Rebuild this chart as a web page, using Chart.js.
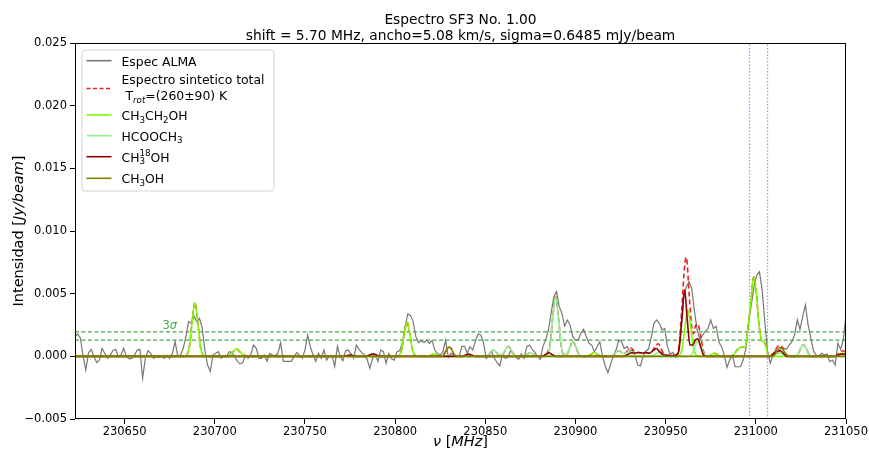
<!DOCTYPE html>
<html>
<head>
<meta charset="utf-8">
<script src="https://cdn.jsdelivr.net/npm/chart.js@4/dist/chart.umd.min.js"></script>
<style>
  html, body { margin: 0; padding: 0; background: #fff; }
  canvas { display: block; }
</style>
</head>
<body>
<canvas id="c" width="869" height="451"></canvas>
<script>
// Observed ALMA spectrum: uniform channel grid (MHz) and flux (Jy/beam)
const almaStart = 230622.5;
const almaStep = 1.5;
const almaFlux = [
  0.00157,0.00178,0.00144,0,-0.0011,0.0003,0.00056,0,-0.0005,-0.0003,
  0.00064,0.00024,-0.00016,0.0001,0.00045,0.00056,0,0.0001,0.00064,0,
  -0.0002,-0.00016,0.0001,0.0005,0.00056,-0.00175,-0.00016,0.00045,0.00024,-0.00016,
  0,-0.0001,0,-0.00016,0.0001,-0.00016,0.00024,0.00117,0,0.0001,
  0.00064,0.00157,0.00277,0.00263,0.0032,0.00277,0.00303,0.0023,0.0005,-0.0007,
  -0.0012,0.0001,0.00024,0.00037,-0.00016,0,0,0.00037,0.0003,0,
  -0.0004,-0.0006,-0.0005,0.0001,-0.00016,0.00016,0.0009,0.00064,-0.00016,-0.00016,
  0.0001,-0.0004,0.00024,0.0001,0.00005,0.00024,0.0011,-0.0004,-0.0004,-0.0004,
  -0.0004,0,0.0003,0.0001,-0.00016,0.0005,0.0017,0.00077,0.0001,-0.0004,
  0.00024,-0.00016,0.0005,-0.0003,0,0.00005,-0.0008,0.0008,0,-0.00035,
  0.00043,0.0005,0.0002,-0.00016,0.0009,0.00056,0.0003,0.0001,-0.00024,-0.00096,
  -0.00016,0.0001,-0.0004,0.0005,0.00037,-0.00056,0.00024,-0.0002,-0.0003,0.00037,
  0.00045,0.00104,0.00237,0.00338,0.00327,0.00277,0.00157,0.0011,0.00125,0.0011,
  0.0013,0.00104,0.00125,0.0005,0.0002,0.0001,0.00037,0.0013,-0.00008,0.00024,
  0.0001,0.00005,0,0.0008,0.0008,0.00024,0.00077,0.0005,0.00122,0.00178,
  0.0017,0.00109,-0.00016,0.0001,0.00037,-0.00016,-0.00048,-0.00077,0.0001,-0.00016,
  -0.00008,0.00045,0.00024,-0.00008,-0.00024,0.00018,-0.00016,0.00077,0.0009,0.00056,
  0.00032,0,-0.00024,0.0008,0.00135,0.0021,0.00343,0.00476,0.00516,0.00396,
  0.00343,0.00242,0.0029,0.0025,0.00157,0.0013,0.0013,0.00183,0.00215,0.00157,
  0.00104,0.0009,0.00037,0.00077,0.00117,0,-0.00077,-0.0013,-0.0006,0,
  0.0005,0.0013,0.00117,0.00064,0.00077,0.00045,0.0005,0.0001,-0.0007,-0.00077,
  0,0.00043,0.00058,0.00151,0.00263,0.0029,0.00263,0.0021,0.00223,0.00077,
  0.00016,0.00032,-0.00008,0.00024,0.00223,0.00476,0.00556,0.00596,0.0054,0.00356,
  0.0021,0.00135,0.0017,0.002,0.00223,0.0029,0.00223,0.0024,0.00114,0.00077,
  0.0001,-0.00088,-0.0003,0.0001,-0.00083,-0.00083,-0.00083,-0.0003,0.00064,0.00276,
  0.0041,0.00556,0.00649,0.00675,0.0053,0.00276,0.00037,-0.00056,0.0001,0.0005,
  0.00024,0.00069,0.00064,0.00058,0.0009,0.00117,0.0017,0.0029,0.00215,0.00316,
  0.0041,0.0025,0.00143,0.00043,0.0001,0.00003,0.00024,0.0001,0.00018,-0.00043,
  -0.0003,-0.0007,0.00104,0.00056,0.0013,0.0033
];

// Synthetic spectra, [frequency MHz, flux Jy/beam]
const totalSynth = [
  [230622.5,0],
  [230683.0,0],[230684.5,0.00011],[230686.0,0.00084],[230687.5,0.00286],[230689.0,0.0043],[230690.5,0.00286],[230692.0,0.00084],[230693.5,0.00011],[230695.0,0],
  [230706.0,0],[230708.0,0.0001],[230710.0,0.00035],[230712.0,0.0006],[230714.0,0.00035],[230716.0,0.0001],[230718.0,0],
  [230800.6,0],[230802.1,0.00007],[230803.6,0.00054],[230805.1,0.00183],[230806.6,0.00275],[230808.1,0.00183],[230809.6,0.00054],[230811.1,0.00007],[230812.6,0],
  [230826.0,0],[230827.5,0.00025],[230829.0,0.00065],[230830.0,0.00072],[230831.2,0.0006],[230832.5,0.0002],[230834.0,0],
  [230850.0,0],[230851.5,0.0001],[230853.0,0.00033],[230854.5,0.0005],[230856.0,0.00033],[230857.5,0.00012],[230859.8,0.00016],[230861.3,0.00054],[230862.8,0.0008],[230864.3,0.00054],[230865.8,0.00016],[230867.3,0],
  [230870.5,0],[230872.0,0.00006],[230873.5,0.00019],[230875.0,0.00028],[230876.5,0.00019],[230878.0,0.00006],[230879.5,0],
  [230883.0,0],[230884.5,0.0003],[230886.0,0.0011],[230887.5,0.0032],[230889.0,0.00476],[230890.5,0.00317],[230892.0,0.00093],[230893.5,0.00013],[230895.6,0.00024],[230897.1,0.0008],[230898.6,0.0012],[230900.1,0.0008],[230901.6,0.00024],[230903.1,0.00003],[230904.6,0],
  [230906.0,0],[230908.5,0.00015],[230910.3,0.0003],[230912.0,0.00015],[230914.5,0],
  [230919.5,0],[230921.0,0.00009],[230922.5,0.0003],[230924.0,0.00045],[230925.5,0.00032],[230927.0,0.0002],[230929.0,0.00045],[230931.0,0.00065],[230933.0,0.00034],[230935.0,0.0003],[230937.0,0.00027],[230939.0,0.0003],[230941.0,0.00025],[230943.0,0.0005],[230944.5,0.00085],[230946.0,0.001],[230947.5,0.0006],[230949.0,0.0002],[230951.0,0.00008],[230953.0,0.00007],[230955.0,0.00008],[230956.5,0.0002],[230957.5,0.0009],[230959.0,0.0039],[230960.5,0.0072],[230961.5,0.0079],[230963.0,0.005],[230964.5,0.0023],[230965.5,0.0018],[230966.5,0.0024],[230967.8,0.0026],[230969.3,0.0017],[230971.0,0.0004],[230972.5,0.00005],[230974.0,0],
  [230975.5,0.00015],[230977.0,0.00025],[230978.5,0.00015],[230980.5,0],
  [230986.8,0],[230989.6,0.0005],[230992.4,0.00077],[230994.2,0.0007],[230995.7,0.0024],[230997.0,0.004],[230998.9,0.00635],[231000.2,0.0052],[231001.7,0.0026],[231003.1,0.0013],[231004.4,0.00117],[231005.7,0.00077],[231006.8,0.0001],[231008.0,0.00005],[231009.5,0.0002],[231011.0,0.00055],[231012.5,0.00085],[231014.0,0.00085],[231015.5,0.0005],[231017.0,0.00015],[231018.5,0],
  [231021.9,0],[231023.4,0.00019],[231024.9,0.00063],[231026.4,0.00095],[231027.9,0.00063],[231029.4,0.00019],[231030.9,0],
  [231044.0,0],[231046.0,0.00025],[231048.0,0.00045],[231050.0,0.00035]
];

const ch3ch2oh = [
  [230622.5,0],
  [230683.0,0],[230684.5,0.00011],[230686.0,0.00084],[230687.5,0.00286],[230689.0,0.0043],[230690.5,0.00286],[230692.0,0.00084],[230693.5,0.00011],[230695.0,0],
  [230706.0,0],[230708.0,0.0001],[230710.0,0.00035],[230712.0,0.0006],[230714.0,0.00035],[230716.0,0.0001],[230718.0,0],
  [230800.6,0],[230802.1,0.00007],[230803.6,0.00054],[230805.1,0.00183],[230806.6,0.00275],[230808.1,0.00183],[230809.6,0.00054],[230811.1,0.00007],[230812.6,0],
  [230818.0,0],[230820.0,0.00012],[230821.5,0.0002],[230823.0,0.00012],[230825.0,0],
  [230906.0,0],[230908.5,0.00015],[230910.3,0.0003],[230912.0,0.00015],[230914.5,0],
  [230956.3,0],[230957.8,0.00009],[230959.3,0.00073],[230960.8,0.00246],[230962.3,0.0037],[230963.8,0.00246],[230965.3,0.00073],[230966.8,0.00012],[230968.3,0],
  [230973.5,0],[230975.5,0.00015],[230977.0,0.00025],[230978.5,0.00015],[230980.5,0],
  [230986.8,0],[230989.6,0.0005],[230992.4,0.00077],[230994.2,0.0007],[230995.7,0.0024],[230997.0,0.004],[230998.9,0.00635],[231000.2,0.0052],[231001.7,0.0026],[231003.1,0.0013],[231004.4,0.00117],[231005.7,0.00077],[231006.8,0.0001],[231008.0,0],
  [231044.0,0],[231046.0,0.00015],[231048.0,0.00025],[231050.0,0.0002]
];

const hcooch3 = [
  [230622.5,0],
  [230850.0,0],[230851.5,0.0001],[230853.0,0.00033],[230854.5,0.0005],[230856.0,0.00033],[230857.5,0.00012],[230859.8,0.00016],[230861.3,0.00054],[230862.8,0.0008],[230864.3,0.00054],[230865.8,0.00016],[230867.3,0],
  [230870.5,0],[230872.0,0.00006],[230873.5,0.00019],[230875.0,0.00028],[230876.5,0.00019],[230878.0,0.00006],[230879.5,0],
  [230883.0,0],[230884.5,0.00012],[230886.0,0.00093],[230887.5,0.00317],[230889.0,0.00476],[230890.5,0.00317],[230892.0,0.00093],[230893.5,0.00013],[230895.6,0.00024],[230897.1,0.0008],[230898.6,0.0012],[230900.1,0.0008],[230901.6,0.00024],[230903.1,0.00003],[230904.6,0],
  [230919.5,0],[230921.0,0.00009],[230922.5,0.0003],[230924.0,0.00045],[230925.5,0.00032],[230927.0,0.0002],[230928.5,0.0003],[230930.0,0.0004],[230931.5,0.00027],[230933.0,0.00008],[230934.5,0],
  [230941.5,0],[230943.0,0.00006],[230944.5,0.0002],[230946.0,0.0003],[230947.5,0.0002],[230949.0,0.00006],[230950.5,0],
  [230962.0,0],[230963.5,0.00003],[230965.0,0.00026],[230966.5,0.00087],[230968.0,0.0013],[230969.5,0.00087],[230971.0,0.00026],[230972.5,0.00003],[230974.0,0],
  [231008.5,0],[231010.0,0.00006],[231011.5,0.0002],[231013.0,0.0003],[231014.5,0.0002],[231016.0,0.00006],[231017.5,0],
  [231021.9,0],[231023.4,0.00019],[231024.9,0.00063],[231026.4,0.00095],[231027.9,0.00063],[231029.4,0.00019],[231030.9,0],
  [231050.0,0]
];

const ch3_18oh = [
  [230622.5,0],
  [230771.5,0],[230773.5,0.00007],[230775.0,0.0001],[230776.5,0.00007],[230778.5,0],
  [230784.0,0],[230786.0,0.00012],[230787.8,0.0002],[230789.5,0.00012],[230791.5,0],
  [230837.0,0],[230839.0,0.0001],[230840.8,0.00018],[230842.5,0.0001],[230844.5,0],
  [230881.5,0],[230883.5,0.00015],[230885.2,0.00028],[230887.0,0.00015],[230889.0,0],
  [230927.0,0],[230929.0,0.00015],[230931.0,0.00028],[230933.0,0.00026],[230935.0,0.0003],[230937.0,0.00027],[230939.0,0.0003],[230941.0,0.00025],[230943.0,0.00045],[230944.8,0.00062],[230946.5,0.0004],[230948.5,0.00015],[230950.5,0.00008],[230952.5,0.00007],[230954.5,0.00006],[230956.5,0.00015],[230957.5,0.0006],[230959.0,0.0029],[230960.5,0.0053],[230962.0,0.0029],[230963.5,0.0009],[230965.0,0.0009],[230966.5,0.0013],[230967.8,0.0014],[230969.3,0.0008],[230971.0,0.0001],[230972.5,0],
  [231008.0,0],[231010.0,0.00022],[231011.8,0.0004],[231013.5,0.00045],[231015.0,0.00028],[231017.0,0],
  [231044.0,0],[231046.0,0.00012],[231048.0,0.0002],[231050.0,0.00015]
];

const ch3oh = [
  [230622.5,0],
  [230826.0,0],[230827.5,0.00025],[230829.0,0.00065],[230830.0,0.00072],[230831.2,0.0006],[230832.5,0.0002],[230834.0,0],
  [231009.5,0],[231011.0,0.00025],[231012.5,0.0006],[231013.6,0.00072],[231015.0,0.00055],[231016.5,0.0002],[231018.0,0],
  [231050.0,0]
];

// Noise level of the spectrum (Jy/beam) and reference line frequencies (MHz)
const sigma = 0.0006485;
const markerFreqs = [230996.5, 231006.5];

// Axis ticks
const xTicks = [230650, 230700, 230750, 230800, 230850, 230900, 230950, 231000, 231050];
const yTicks = [-0.005, 0, 0.005, 0.010, 0.015, 0.020, 0.025];
const xRange = [230622.5, 231050];
const yRange = [-0.005, 0.025];

const FONT = '"DejaVu Sans", "Liberation Sans", sans-serif';
const toXY = arr => arr.map(p => ({ x: p[0], y: p[1] }));

const almaPoints = almaFlux.map((v, i) => ({ x: almaStart + i * almaStep, y: v }));

function hline(value, color) {
  return {
    data: [{ x: xRange[0], y: value }, { x: xRange[1], y: value }],
    borderColor: color, borderWidth: 1.2, borderDash: [4, 2.5],
    pointRadius: 0, order: 8
  };
}
function vline(freq) {
  return {
    data: [{ x: freq, y: yRange[0] }, { x: freq, y: yRange[1] }],
    borderColor: '#6ab4f5', borderWidth: 1.3, borderDash: [1.5, 1.8],
    pointRadius: 0, order: 9
  };
}

const datasets = [
  { label: 'Espec ALMA', data: almaPoints, borderColor: '#777777', borderWidth: 1.2, order: 7 },
  { label: 'total', data: toXY(totalSynth), borderColor: '#ee2222', borderWidth: 1.6, borderDash: [5, 3], cubicInterpolationMode: 'monotone', order: 6 },
  { label: 'CH3CH2OH', data: toXY(ch3ch2oh), borderColor: '#7cfc00', borderWidth: 1.6, cubicInterpolationMode: 'monotone', order: 5 },
  { label: 'HCOOCH3', data: toXY(hcooch3), borderColor: '#90ee90', borderWidth: 1.6, cubicInterpolationMode: 'monotone', order: 4 },
  { label: 'CH3-18OH', data: toXY(ch3_18oh), borderColor: '#8b0000', borderWidth: 1.6, cubicInterpolationMode: 'monotone', order: 3 },
  { label: 'CH3OH', data: toXY(ch3oh), borderColor: '#808000', borderWidth: 1.6, cubicInterpolationMode: 'monotone', order: 2 },
  hline(3 * sigma, '#44aa44'),
  hline(2 * sigma, '#44aa44'),
  vline(markerFreqs[0]),
  vline(markerFreqs[1])
];

// --- rich text helpers (subscripts, superscripts, italics) ---
function fnt(size, italic) { return (italic ? 'italic ' : '') + size + 'px ' + FONT; }
function drawRich(ctx, parts, x, y, fs, measureOnly) {
  let cx = x;
  for (const p of parts) {
    if (typeof p === 'string' || p.t !== undefined) {
      const txt = typeof p === 'string' ? p : p.t;
      ctx.font = fnt(fs, p.it);
      if (!measureOnly) ctx.fillText(txt, cx, y);
      cx += ctx.measureText(txt).width;
    } else {
      const ss = fs * 0.7;
      let w = 0;
      ctx.font = fnt(ss, p.it);
      if (p.sub !== undefined) {
        if (!measureOnly) ctx.fillText(p.sub, cx, y + fs * 0.22);
        w = Math.max(w, ctx.measureText(p.sub).width);
      }
      if (p.sup !== undefined) {
        if (!measureOnly) ctx.fillText(p.sup, cx, y - fs * 0.42);
        w = Math.max(w, ctx.measureText(p.sup).width);
      }
      cx += w;
    }
  }
  return cx - x;
}

const legendRows = [
  { color: '#777777', dash: [], hy: 60.7, lines: [{ y: 65.5, x: 121.5, parts: ['Espec ALMA'] }] },
  { color: '#ee2222', dash: [4, 2.5], hy: 88.5, lines: [
      { y: 83.7, x: 121.5, parts: ['Espectro sintetico total'] },
      { y: 100, x: 121.5, parts: [' T', { sub: 'rot', it: true }, '=(260\u00b190) K'] }] },
  { color: '#7cfc00', dash: [], hy: 115, lines: [{ y: 120, x: 121.5, parts: ['CH', { sub: '3' }, 'CH', { sub: '2' }, 'OH'] }] },
  { color: '#90ee90', dash: [], hy: 135.7, lines: [{ y: 140.5, x: 121.5, parts: ['HCOOCH', { sub: '3' }] }] },
  { color: '#8b0000', dash: [], hy: 156.7, lines: [{ y: 161.5, x: 121.5, parts: ['CH', { sub: '3', sup: '18' }, 'OH'] }] },
  { color: '#808000', dash: [], hy: 178.3, lines: [{ y: 183, x: 121.5, parts: ['CH', { sub: '3' }, 'OH'] }] }
];

const decorPlugin = {
  id: 'decor',
  afterDatasetsDraw(chart) {
    const { ctx, chartArea: a, scales } = chart;
    ctx.save();
    // frame around the axes
    ctx.strokeStyle = '#000';
    ctx.lineWidth = 1;
    ctx.strokeRect(Math.round(a.left) + 0.5, Math.round(a.top) + 0.5,
                   Math.round(a.right - a.left) - 1, Math.round(a.bottom - a.top) - 1);

    // 3 sigma label
    ctx.fillStyle = '#44aa44';
    ctx.textBaseline = 'alphabetic';
    const lx = scales.x.getPixelForValue(230671);
    const ly = scales.y.getPixelForValue(3 * sigma) - 3;
    drawRich(ctx, ['3', { t: '\u03c3', it: true }], lx, ly, 11.5);

    // legend box
    const bx = 82, by = 50, bw = 192, bh = 141, r = 3;
    ctx.beginPath();
    ctx.moveTo(bx + r, by);
    ctx.arcTo(bx + bw, by, bx + bw, by + bh, r);
    ctx.arcTo(bx + bw, by + bh, bx, by + bh, r);
    ctx.arcTo(bx, by + bh, bx, by, r);
    ctx.arcTo(bx, by, bx + bw, by, r);
    ctx.closePath();
    ctx.fillStyle = 'rgba(255,255,255,0.85)';
    ctx.fill();
    ctx.strokeStyle = '#d4d4d4';
    ctx.lineWidth = 1;
    ctx.stroke();

    for (const row of legendRows) {
      ctx.beginPath();
      ctx.setLineDash(row.dash);
      ctx.strokeStyle = row.color;
      ctx.lineWidth = 1.6;
      ctx.moveTo(86.5, row.hy);
      ctx.lineTo(111.5, row.hy);
      ctx.stroke();
      ctx.setLineDash([]);
      ctx.fillStyle = '#000';
      for (const ln of row.lines) drawRich(ctx, ln.parts, ln.x, ln.y, 12.4);
    }

    // title
    ctx.fillStyle = '#000';
    const cx = (a.left + a.right) / 2;
    ctx.font = fnt(13.8);
    ctx.textAlign = 'center';
    ctx.fillText('Espectro SF3 No. 1.00', cx, 23.5);
    ctx.fillText('shift = 5.70 MHz, ancho=5.08 km/s, sigma=0.6485 mJy/beam', cx, 39.5);
    ctx.textAlign = 'left';

    // x axis title
    const xl = ['', { t: '\u03bd', it: true }, ' [', { t: 'MHz', it: true }, ']'];
    const wx = drawRich(ctx, xl, 0, 0, 14.5, true);
    drawRich(ctx, xl, cx - wx / 2, 446, 14.5);

    // y axis title
    const yl = ['Intensidad [', { t: 'Jy/beam', it: true }, ']'];
    const wy = drawRich(ctx, yl, 0, 0, 14.5, true);
    ctx.translate(23, (a.top + a.bottom) / 2);
    ctx.rotate(-Math.PI / 2);
    drawRich(ctx, yl, -wy / 2, 0, 14.5);
    ctx.restore();
  }
};

new Chart(document.getElementById('c'), {
  type: 'line',
  data: { datasets },
  options: {
    responsive: false,
    animation: false,
    events: [],
    layout: { padding: { top: 43, right: 23, left: 0, bottom: 0 } },
    elements: { point: { radius: 0 }, line: { tension: 0 } },
    plugins: {
      legend: { display: false },
      title: { display: false },
      tooltip: { enabled: false }
    },
    scales: {
      x: {
        type: 'linear', min: xRange[0], max: xRange[1],
        afterFit: s => { s.height = 32; },
        afterBuildTicks: s => { s.ticks = xTicks.map(v => ({ value: v })); },
        ticks: { font: { family: FONT, size: 11.5 }, color: '#000', padding: 1, maxRotation: 0, autoSkip: false, callback: v => String(v) },
        grid: { drawOnChartArea: false, drawTicks: true, tickLength: 5, tickColor: '#000', tickWidth: 1 },
        border: { display: false }
      },
      y: {
        type: 'linear', min: yRange[0], max: yRange[1],
        afterFit: s => { s.width = 75; },
        afterBuildTicks: s => { s.ticks = yTicks.map(v => ({ value: v })); },
        ticks: { font: { family: FONT, size: 11.5 }, color: '#000', padding: 3,
                 callback: v => (v < -1e-12 ? '\u2212' + Math.abs(v).toFixed(3) : Math.abs(v).toFixed(3)) },
        grid: { drawOnChartArea: false, drawTicks: true, tickLength: 5, tickColor: '#000', tickWidth: 1 },
        border: { display: false }
      }
    }
  },
  plugins: [decorPlugin]
});
</script>
</body>
</html>
